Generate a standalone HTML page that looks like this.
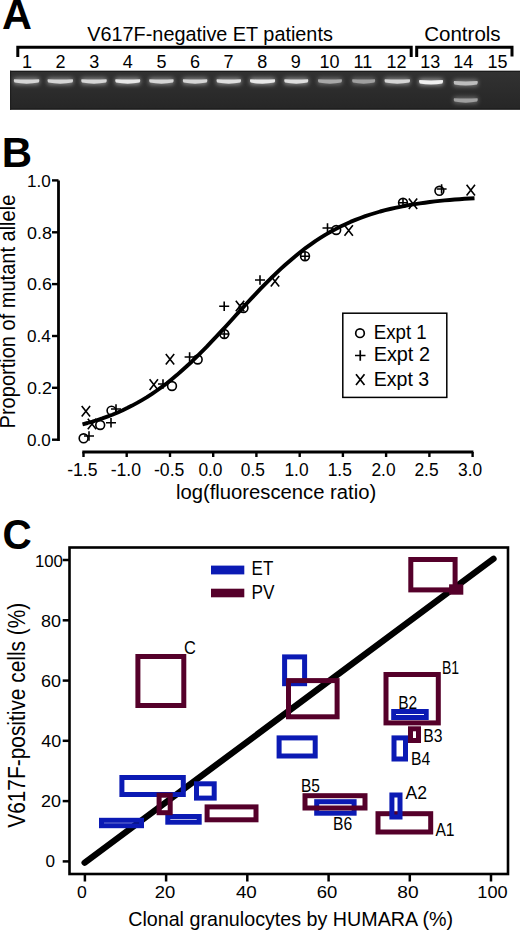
<!DOCTYPE html>
<html><head><meta charset="utf-8"><style>
html,body{margin:0;padding:0;background:#fff;}
body{width:520px;height:931px;overflow:hidden;}
svg{display:block;font-family:"Liberation Sans", sans-serif;}
</style></head><body>
<svg width="520" height="931" viewBox="0 0 520 931">
<path d="M17.8 57 V47.3 H411.2 V57" fill="none" stroke="#000" stroke-width="3"/>
<path d="M416.7 57 V47.3 H512 V56.5" fill="none" stroke="#000" stroke-width="3"/>
<defs><linearGradient id="gel" x1="0" y1="0" x2="0" y2="1"><stop offset="0" stop-color="#323232"/><stop offset="0.35" stop-color="#2e2e2e"/><stop offset="1" stop-color="#262626"/></linearGradient><filter id="blur1" x="-20%" y="-100%" width="140%" height="300%"><feGaussianBlur stdDeviation="0.7"/></filter><filter id="blur2" x="-20%" y="-100%" width="140%" height="300%"><feGaussianBlur stdDeviation="2"/></filter></defs>
<rect x="10" y="70.8" width="510" height="38.8" fill="url(#gel)"/>
<rect x="10" y="70.8" width="510" height="1.2" fill="#1c1c1c"/>
<rect x="10" y="108.2" width="510" height="1.4" fill="#1e1e1e"/>
<rect x="10" y="70.8" width="1.2" height="38.8" fill="#1e1e1e"/>
<rect x="13.6" y="77.7" width="26" height="7" rx="2" fill="rgb(213,213,213)" opacity="0.5" filter="url(#blur2)"/>
<path d="M14.1 79.2 Q26.6 80.0 39.1 79.2 Q39.9 81.2 38.6 82.6 Q26.6 84.8 14.6 82.6 Q13.3 81.2 14.1 79.2Z" fill="rgb(213,213,213)" filter="url(#blur1)"/>
<rect x="47.3" y="77.7" width="26" height="7" rx="2" fill="rgb(213,213,213)" opacity="0.5" filter="url(#blur2)"/>
<path d="M47.8 79.2 Q60.3 80.0 72.8 79.2 Q73.6 81.2 72.3 82.6 Q60.3 84.8 48.3 82.6 Q47.0 81.2 47.8 79.2Z" fill="rgb(213,213,213)" filter="url(#blur1)"/>
<rect x="81.0" y="77.7" width="26" height="7" rx="2" fill="rgb(213,213,213)" opacity="0.5" filter="url(#blur2)"/>
<path d="M81.5 79.2 Q94.0 80.0 106.5 79.2 Q107.3 81.2 106.0 82.6 Q94.0 84.8 82.0 82.6 Q80.7 81.2 81.5 79.2Z" fill="rgb(213,213,213)" filter="url(#blur1)"/>
<rect x="115.0" y="77.7" width="25.5" height="7" rx="2" fill="rgb(231,231,231)" opacity="0.5" filter="url(#blur2)"/>
<path d="M115.5 79.2 Q127.7 80.0 140.0 79.2 Q140.8 81.2 139.5 82.6 Q127.7 84.8 116.0 82.6 Q114.7 81.2 115.5 79.2Z" fill="rgb(231,231,231)" filter="url(#blur1)"/>
<rect x="148.9" y="77.7" width="25" height="7" rx="2" fill="rgb(213,213,213)" opacity="0.5" filter="url(#blur2)"/>
<path d="M149.4 79.2 Q161.4 80.0 173.4 79.2 Q174.2 81.2 172.9 82.6 Q161.4 84.8 149.9 82.6 Q148.6 81.2 149.4 79.2Z" fill="rgb(213,213,213)" filter="url(#blur1)"/>
<rect x="182.6" y="77.7" width="25" height="7" rx="2" fill="rgb(213,213,213)" opacity="0.5" filter="url(#blur2)"/>
<path d="M183.1 79.2 Q195.1 80.0 207.1 79.2 Q207.9 81.2 206.6 82.6 Q195.1 84.8 183.6 82.6 Q182.3 81.2 183.1 79.2Z" fill="rgb(213,213,213)" filter="url(#blur1)"/>
<rect x="216.3" y="77.7" width="25" height="7" rx="2" fill="rgb(222,222,222)" opacity="0.5" filter="url(#blur2)"/>
<path d="M216.8 79.2 Q228.8 80.0 240.8 79.2 Q241.6 81.2 240.3 82.6 Q228.8 84.8 217.3 82.6 Q216.0 81.2 216.8 79.2Z" fill="rgb(222,222,222)" filter="url(#blur1)"/>
<rect x="249.8" y="77.7" width="25.5" height="7" rx="2" fill="rgb(231,231,231)" opacity="0.5" filter="url(#blur2)"/>
<path d="M250.3 79.2 Q262.5 80.0 274.8 79.2 Q275.6 81.2 274.3 82.6 Q262.5 84.8 250.8 82.6 Q249.5 81.2 250.3 79.2Z" fill="rgb(231,231,231)" filter="url(#blur1)"/>
<rect x="284.0" y="77.7" width="24.5" height="7" rx="2" fill="rgb(222,222,222)" opacity="0.5" filter="url(#blur2)"/>
<path d="M284.5 79.2 Q296.2 80.0 308.0 79.2 Q308.8 81.2 307.5 82.6 Q296.2 84.8 285.0 82.6 Q283.7 81.2 284.5 79.2Z" fill="rgb(222,222,222)" filter="url(#blur1)"/>
<rect x="317.7" y="77.7" width="24.5" height="7" rx="2" fill="rgb(168,168,168)" opacity="0.5" filter="url(#blur2)"/>
<path d="M318.2 79.2 Q329.9 80.0 341.7 79.2 Q342.5 81.2 341.2 82.6 Q329.9 84.8 318.7 82.6 Q317.4 81.2 318.2 79.2Z" fill="rgb(168,168,168)" filter="url(#blur1)"/>
<rect x="351.9" y="77.7" width="23.5" height="7" rx="2" fill="rgb(159,159,159)" opacity="0.5" filter="url(#blur2)"/>
<path d="M352.4 79.2 Q363.6 80.0 374.9 79.2 Q375.7 81.2 374.4 82.6 Q363.6 84.8 352.9 82.6 Q351.6 81.2 352.4 79.2Z" fill="rgb(159,159,159)" filter="url(#blur1)"/>
<rect x="384.3" y="77.7" width="26" height="7" rx="2" fill="rgb(213,213,213)" opacity="0.5" filter="url(#blur2)"/>
<path d="M384.8 79.2 Q397.3 80.0 409.8 79.2 Q410.6 81.2 409.3 82.6 Q397.3 84.8 385.3 82.6 Q384.0 81.2 384.8 79.2Z" fill="rgb(213,213,213)" filter="url(#blur1)"/>
<rect x="418.8" y="78.5" width="24.5" height="7" rx="2" fill="rgb(240,240,240)" opacity="0.5" filter="url(#blur2)"/>
<path d="M419.3 80.0 Q431.0 80.8 442.8 80.0 Q443.6 82.0 442.3 83.4 Q431.0 85.6 419.8 83.4 Q418.5 82.0 419.3 80.0Z" fill="rgb(240,240,240)" filter="url(#blur1)"/>
<rect x="453.5" y="79.5" width="24.5" height="7" rx="2" fill="rgb(189,189,189)" opacity="0.5" filter="url(#blur2)"/>
<path d="M454.0 81.0 Q465.7 81.8 477.5 81.0 Q478.3 83.0 477.0 84.4 Q465.7 86.6 454.5 84.4 Q453.2 83.0 454.0 81.0Z" fill="rgb(189,189,189)" filter="url(#blur1)"/>
<rect x="453.5" y="96.7" width="24.5" height="7" rx="2" fill="rgb(159,159,159)" opacity="0.5" filter="url(#blur2)"/>
<path d="M454.0 98.2 Q465.7 99.0 477.5 98.2 Q478.3 100.2 477.0 101.6 Q465.7 103.8 454.5 101.6 Q453.2 100.2 454.0 98.2Z" fill="rgb(159,159,159)" filter="url(#blur1)"/>
<path d="M58.5 180.4 V441" stroke="#000" stroke-width="2.8" fill="none"/>
<path d="M52 439.7 H58.5" stroke="#000" stroke-width="2.4"/>
<path d="M52 387.8 H58.5" stroke="#000" stroke-width="2.4"/>
<path d="M52 336.0 H58.5" stroke="#000" stroke-width="2.4"/>
<path d="M52 284.1 H58.5" stroke="#000" stroke-width="2.4"/>
<path d="M52 232.3 H58.5" stroke="#000" stroke-width="2.4"/>
<path d="M52 180.4 H58.5" stroke="#000" stroke-width="2.4"/>
<path d="M82.3 452 H473.4" stroke="#000" stroke-width="2.8" fill="none"/>
<path d="M83.5 452 V457" stroke="#000" stroke-width="2.4"/>
<path d="M126.7 452 V457" stroke="#000" stroke-width="2.4"/>
<path d="M170.0 452 V457" stroke="#000" stroke-width="2.4"/>
<path d="M213.2 452 V457" stroke="#000" stroke-width="2.4"/>
<path d="M256.4 452 V457" stroke="#000" stroke-width="2.4"/>
<path d="M299.7 452 V457" stroke="#000" stroke-width="2.4"/>
<path d="M342.9 452 V457" stroke="#000" stroke-width="2.4"/>
<path d="M386.1 452 V457" stroke="#000" stroke-width="2.4"/>
<path d="M429.4 452 V457" stroke="#000" stroke-width="2.4"/>
<path d="M472.6 452 V457" stroke="#000" stroke-width="2.4"/>
<polyline points="82.5,424.3 87.5,423.0 92.4,421.6 97.4,420.0 102.3,418.4 107.3,416.6 112.3,414.7 117.2,412.7 122.2,410.5 127.2,408.1 132.1,405.6 137.1,402.9 142.0,400.1 147.0,397.1 152.0,393.9 156.9,390.5 161.9,386.9 166.9,383.2 171.8,379.2 176.8,375.1 181.7,370.8 186.7,366.3 191.7,361.7 196.6,356.9 201.6,351.9 206.6,346.9 211.5,341.7 216.5,336.4 221.4,331.1 226.4,325.7 231.4,320.3 236.3,314.8 241.3,309.4 246.2,304.0 251.2,298.7 256.2,293.4 261.1,288.2 266.1,283.1 271.1,278.2 276.0,273.4 281.0,268.7 285.9,264.2 290.9,259.9 295.9,255.7 300.8,251.7 305.8,247.9 310.8,244.3 315.7,240.9 320.7,237.7 325.6,234.6 330.6,231.8 335.6,229.1 340.5,226.5 345.5,224.2 350.4,221.9 355.4,219.9 360.4,218.0 365.3,216.2 370.3,214.5 375.3,213.0 380.2,211.5 385.2,210.2 390.1,209.0 395.1,207.8 400.1,206.8 405.0,205.8 410.0,204.9 415.0,204.1 419.9,203.4 424.9,202.7 429.8,202.0 434.8,201.4 439.8,200.9 444.7,200.4 449.7,200.0 454.7,199.5 459.6,199.2 464.6,198.8 469.5,198.5 474.5,198.2" fill="none" stroke="#000" stroke-width="3.9" stroke-linejoin="round"/>
<g fill="none" stroke="#000" stroke-width="1.6"><circle cx="83.6" cy="438.3" r="4.4"/><circle cx="100.2" cy="425" r="4.4"/><circle cx="111.5" cy="410.6" r="4.4"/><circle cx="172" cy="386" r="4.4"/><circle cx="197.7" cy="359.5" r="4.4"/><circle cx="224.3" cy="334" r="4.4"/><circle cx="243.5" cy="308" r="4.4"/><circle cx="305" cy="256.2" r="4.4"/><circle cx="336.2" cy="230" r="4.4"/><circle cx="403" cy="202.8" r="4.4"/><circle cx="439.4" cy="190.8" r="4.4"/><path d="M84 436h10M89 431.3v9.4"/><path d="M106 422.7h10M111 418.0v9.4"/><path d="M111 409h10M116 404.3v9.4"/><path d="M158 384h10M163 379.3v9.4"/><path d="M184.6 357h10M189.6 352.3v9.4"/><path d="M219.2 306.3h10M224.2 301.6v9.4"/><path d="M255 280h10M260 275.3v9.4"/><path d="M322.5 228h10M327.5 223.3v9.4"/><path d="M398 202.8h10M403 198.10000000000002v9.4"/><path d="M436.6 189h10M441.6 184.3v9.4"/><path d="M300 256.2h10M305 251.5v9.4"/><path d="M219.3 334h10M224.3 329.3v9.4"/><path d="M81.7 405.9L90.10000000000001 416.5M90.10000000000001 405.9L81.7 416.5"/><path d="M87.8 418.7L96.2 429.3M96.2 418.7L87.8 429.3"/><path d="M149.60000000000002 379.3L158.0 389.90000000000003M158.0 379.3L149.60000000000002 389.90000000000003"/><path d="M165.8 353.9L174.2 364.5M174.2 353.9L165.8 364.5"/><path d="M235.8 300.7L244.2 311.3M244.2 300.7L235.8 311.3"/><path d="M270.8 275.9L279.2 286.5M279.2 275.9L270.8 286.5"/><path d="M344.5 225.2L352.9 235.8M352.9 225.2L344.5 235.8"/><path d="M408.8 198.5L417.2 209.10000000000002M417.2 198.5L408.8 209.10000000000002"/><path d="M466.6 184.79999999999998L475.0 195.4M475.0 184.79999999999998L466.6 195.4"/></g>
<rect x="342.8" y="313.2" width="104" height="84.2" fill="none" stroke="#000" stroke-width="1.5"/>
<g fill="none" stroke="#000" stroke-width="1.7"><circle cx="360" cy="333.2" r="4.3"/><path d="M355 355.5h10.5M360.25 350.3v10.4"/><path d="M356 374.2L364.5 385M364.5 374.2L356 385"/></g>
<rect x="69.5" y="547.5" width="438.5" height="326.5" fill="none" stroke="#000" stroke-width="2.6"/>
<path d="M62.7 861.4 H69.5" stroke="#000" stroke-width="2.5"/>
<path d="M84.9 874 V881.5" stroke="#000" stroke-width="2.5"/>
<path d="M62.7 801.1 H69.5" stroke="#000" stroke-width="2.5"/>
<path d="M166.1 874 V881.5" stroke="#000" stroke-width="2.5"/>
<path d="M62.7 740.8 H69.5" stroke="#000" stroke-width="2.5"/>
<path d="M247.3 874 V881.5" stroke="#000" stroke-width="2.5"/>
<path d="M62.7 680.6 H69.5" stroke="#000" stroke-width="2.5"/>
<path d="M328.6 874 V881.5" stroke="#000" stroke-width="2.5"/>
<path d="M62.7 620.3 H69.5" stroke="#000" stroke-width="2.5"/>
<path d="M409.8 874 V881.5" stroke="#000" stroke-width="2.5"/>
<path d="M62.7 560.0 H69.5" stroke="#000" stroke-width="2.5"/>
<path d="M491.0 874 V881.5" stroke="#000" stroke-width="2.5"/>
<rect x="211" y="565.6" width="33.3" height="8.8" fill="#0b1ab4"/>
<rect x="211" y="588.7" width="33.3" height="8.6" fill="#55002a"/>
<path d="M84.6 862.7 L493.5 558.8" stroke="#000" stroke-width="6.3" stroke-linecap="round"/>
<rect x="284.6" y="656.9" width="20.0" height="26.8" fill="none" stroke="#0b1ab4" stroke-width="5"/>
<rect x="393.7" y="711.5" width="32.5" height="6.0" fill="none" stroke="#0b1ab4" stroke-width="5"/>
<rect x="394.0" y="737.9" width="11.5" height="21.1" fill="none" stroke="#0b1ab4" stroke-width="5"/>
<rect x="316.7" y="801.7" width="37.4" height="11.5" fill="none" stroke="#0b1ab4" stroke-width="5"/>
<rect x="279.1" y="737.9" width="36.1" height="18.1" fill="none" stroke="#0b1ab4" stroke-width="5"/>
<rect x="121.9" y="777.5" width="61.4" height="17.0" fill="none" stroke="#0b1ab4" stroke-width="5"/>
<rect x="101.5" y="820.3" width="40.0" height="5.4" fill="none" stroke="#0b1ab4" stroke-width="5"/>
<rect x="196.5" y="783.8" width="17.7" height="14.3" fill="none" stroke="#0b1ab4" stroke-width="5"/>
<rect x="167.8" y="816.5" width="31.4" height="5.7" fill="none" stroke="#0b1ab4" stroke-width="5"/>
<rect x="137.9" y="656.5" width="45.9" height="49.0" fill="none" stroke="#55002a" stroke-width="5"/>
<rect x="288.5" y="680.6" width="48.6" height="36.2" fill="none" stroke="#55002a" stroke-width="5"/>
<rect x="410.8" y="559.5" width="44.3" height="30.4" fill="none" stroke="#55002a" stroke-width="5"/>
<rect x="386.0" y="674.5" width="52.3" height="48.4" fill="none" stroke="#55002a" stroke-width="5"/>
<rect x="410.5" y="728.8" width="8.0" height="11.7" fill="none" stroke="#55002a" stroke-width="5"/>
<rect x="305.0" y="795.7" width="60.0" height="12.3" fill="none" stroke="#55002a" stroke-width="5"/>
<rect x="378.0" y="813.7" width="52.7" height="18.3" fill="none" stroke="#55002a" stroke-width="5"/>
<rect x="159.1" y="795.2" width="11.1" height="17.5" fill="none" stroke="#55002a" stroke-width="5"/>
<rect x="207.1" y="806.9" width="48.9" height="12.9" fill="none" stroke="#55002a" stroke-width="5"/>
<rect x="391.9" y="795.0" width="8.1" height="22.0" fill="none" stroke="#0b1ab4" stroke-width="5"/>
<rect x="449.1" y="584.3" width="14.2" height="10.4" fill="#55002a"/>
<text x="2" y="28.8" font-size="42" font-weight="bold" textLength="29.93" lengthAdjust="spacingAndGlyphs">A</text>
<text x="87.3" y="40.6" font-size="20.5" textLength="245.53" lengthAdjust="spacingAndGlyphs">V617F-negative ET patients</text>
<text x="424.2" y="40.6" font-size="20.5" textLength="76.45" lengthAdjust="spacingAndGlyphs">Controls</text>
<text x="22.0" y="67.9" font-size="18">1</text>
<text x="55.6" y="67.9" font-size="18">2</text>
<text x="89.2" y="67.9" font-size="18">3</text>
<text x="122.8" y="67.9" font-size="18">4</text>
<text x="156.4" y="67.9" font-size="18">5</text>
<text x="190.0" y="67.9" font-size="18">6</text>
<text x="223.6" y="67.9" font-size="18">7</text>
<text x="257.2" y="67.9" font-size="18">8</text>
<text x="290.8" y="67.9" font-size="18">9</text>
<text x="319.4" y="67.9" font-size="18">10</text>
<text x="353.5" y="67.9" font-size="18">11</text>
<text x="386.6" y="67.9" font-size="18">12</text>
<text x="420.2" y="67.9" font-size="18">13</text>
<text x="453.3" y="67.9" font-size="18">14</text>
<text x="487.4" y="67.9" font-size="18">15</text>
<text x="1.8" y="166.5" font-size="42" font-weight="bold" textLength="30.34" lengthAdjust="spacingAndGlyphs">B</text>
<text x="27.1" y="446.0" font-size="17" textLength="23.76" lengthAdjust="spacingAndGlyphs">0.0</text>
<text x="27.1" y="394.1" font-size="17" textLength="24.84" lengthAdjust="spacingAndGlyphs">0.2</text>
<text x="27.1" y="342.3" font-size="17" textLength="23.76" lengthAdjust="spacingAndGlyphs">0.4</text>
<text x="27.1" y="290.4" font-size="17" textLength="24.84" lengthAdjust="spacingAndGlyphs">0.6</text>
<text x="27.1" y="238.6" font-size="17" textLength="24.84" lengthAdjust="spacingAndGlyphs">0.8</text>
<text x="27.1" y="186.7" font-size="17" textLength="23.76" lengthAdjust="spacingAndGlyphs">1.0</text>
<text x="67.2" y="475.6" font-size="17.5" textLength="30.38" lengthAdjust="spacingAndGlyphs">-1.5</text>
<text x="110.7" y="475.6" font-size="17.5" textLength="30.38" lengthAdjust="spacingAndGlyphs">-1.0</text>
<text x="154.0" y="475.6" font-size="17.5" textLength="30.38" lengthAdjust="spacingAndGlyphs">-0.5</text>
<text x="198.4" y="475.6" font-size="17.5" textLength="24.13" lengthAdjust="spacingAndGlyphs">0.0</text>
<text x="240.8" y="475.6" font-size="17.5" textLength="24.13" lengthAdjust="spacingAndGlyphs">0.5</text>
<text x="284.45" y="475.6" font-size="17.5" textLength="24.13" lengthAdjust="spacingAndGlyphs">1.0</text>
<text x="327.7" y="475.6" font-size="17.5" textLength="24.13" lengthAdjust="spacingAndGlyphs">1.5</text>
<text x="371.45" y="475.6" font-size="17.5" textLength="24.13" lengthAdjust="spacingAndGlyphs">2.0</text>
<text x="414.45" y="475.6" font-size="17.5" textLength="24.13" lengthAdjust="spacingAndGlyphs">2.5</text>
<text x="458.1" y="475.6" font-size="17.5" textLength="24.13" lengthAdjust="spacingAndGlyphs">3.0</text>
<text x="175.9" y="498.8" font-size="19.5" textLength="200.31" lengthAdjust="spacingAndGlyphs">log(fluorescence ratio)</text>
<text transform="translate(15,428.4) rotate(-90)" font-size="21.5" textLength="233.68" lengthAdjust="spacingAndGlyphs">Proportion of mutant allele</text>
<text x="373.7" y="338.6" font-size="19.5" textLength="53.01" lengthAdjust="spacingAndGlyphs">Expt 1</text>
<text x="373.7" y="361" font-size="19.5" textLength="56.26" lengthAdjust="spacingAndGlyphs">Expt 2</text>
<text x="373.7" y="385.5" font-size="19.5" textLength="55.52" lengthAdjust="spacingAndGlyphs">Expt 3</text>
<text x="2.5" y="549.3" font-size="42" font-weight="bold" textLength="29.22" lengthAdjust="spacingAndGlyphs">C</text>
<text x="34.9" y="566.9" font-size="16.5" textLength="27.96" lengthAdjust="spacingAndGlyphs">100</text>
<text x="40.9" y="627" font-size="16.5" textLength="19.99" lengthAdjust="spacingAndGlyphs">80</text>
<text x="40.9" y="687" font-size="16.5" textLength="19.99" lengthAdjust="spacingAndGlyphs">60</text>
<text x="41.2" y="746.9" font-size="16.5" textLength="19.9" lengthAdjust="spacingAndGlyphs">40</text>
<text x="40.9" y="807.3" font-size="16.5" textLength="19.99" lengthAdjust="spacingAndGlyphs">20</text>
<text x="45.6" y="866.9" font-size="16.5" textLength="9.54" lengthAdjust="spacingAndGlyphs">0</text>
<text x="77" y="897.5" font-size="16.5" textLength="9.8" lengthAdjust="spacingAndGlyphs">0</text>
<text x="154.7" y="897.5" font-size="16.5" textLength="20.52" lengthAdjust="spacingAndGlyphs">20</text>
<text x="235.9" y="897.5" font-size="16.5" textLength="20.92" lengthAdjust="spacingAndGlyphs">40</text>
<text x="316.8" y="897.5" font-size="16.5" textLength="20.52" lengthAdjust="spacingAndGlyphs">60</text>
<text x="397.3" y="897.5" font-size="16.5" textLength="21.28" lengthAdjust="spacingAndGlyphs">80</text>
<text x="477.3" y="897.5" font-size="16.5" textLength="30.29" lengthAdjust="spacingAndGlyphs">100</text>
<text x="128.2" y="926" font-size="21" textLength="324.92" lengthAdjust="spacingAndGlyphs">Clonal granulocytes by HUMARA (%)</text>
<text transform="translate(24.9,827.8) rotate(-90)" font-size="23.5" textLength="225.11" lengthAdjust="spacingAndGlyphs">V617F-positive cells (%)</text>
<text x="251.6" y="575.4" font-size="20" textLength="21.65" lengthAdjust="spacingAndGlyphs">ET</text>
<text x="251.6" y="599.2" font-size="20" textLength="22.93" lengthAdjust="spacingAndGlyphs">PV</text>
<text x="184.1" y="654.2" font-size="17.5" textLength="11.84" lengthAdjust="spacingAndGlyphs">C</text>
<text x="441.9" y="673.8" font-size="17.5" textLength="17.19" lengthAdjust="spacingAndGlyphs">B1</text>
<text x="398.2" y="708.6" font-size="17.5" textLength="18.95" lengthAdjust="spacingAndGlyphs">B2</text>
<text x="423.2" y="742.3" font-size="17.5" textLength="19.18" lengthAdjust="spacingAndGlyphs">B3</text>
<text x="411" y="764.8" font-size="17.5" textLength="19.27" lengthAdjust="spacingAndGlyphs">B4</text>
<text x="301" y="791.9" font-size="17.5" textLength="18.95" lengthAdjust="spacingAndGlyphs">B5</text>
<text x="333.1" y="830.4" font-size="17.5" textLength="19.18" lengthAdjust="spacingAndGlyphs">B6</text>
<text x="405.5" y="798.7" font-size="17.5" textLength="21.53" lengthAdjust="spacingAndGlyphs">A2</text>
<text x="435.4" y="836.2" font-size="17.5" textLength="19.18" lengthAdjust="spacingAndGlyphs">A1</text>
</svg>
</body></html>
